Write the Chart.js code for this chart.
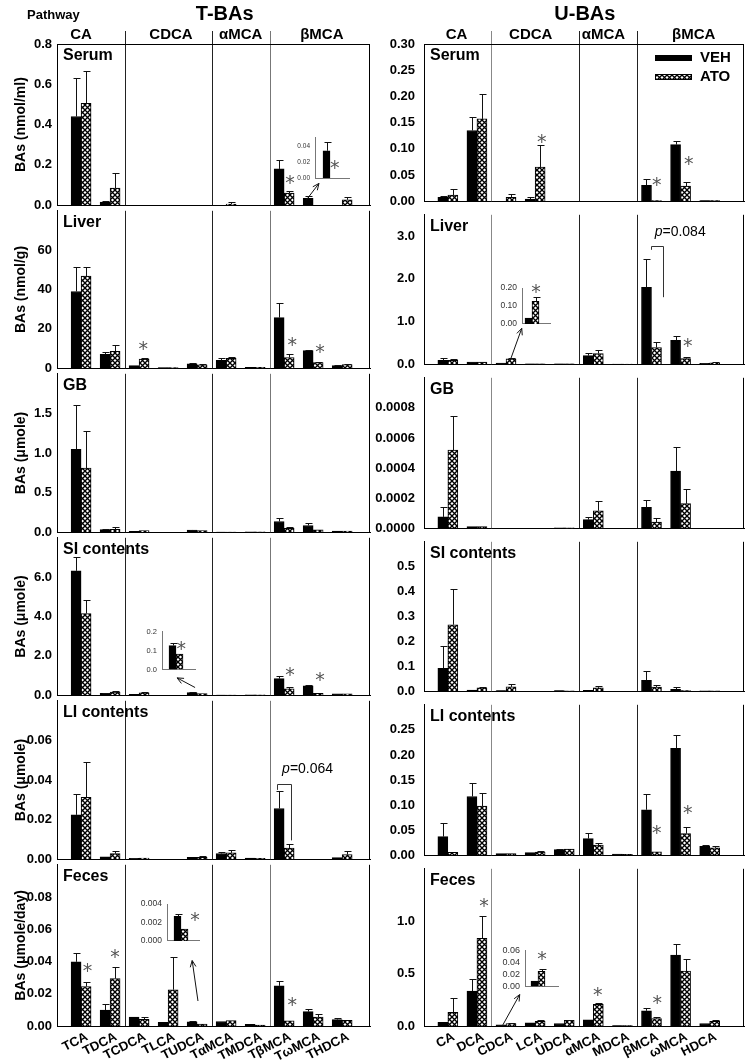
<!DOCTYPE html>
<html><head><meta charset="utf-8">
<script src="https://cdn.jsdelivr.net/npm/chart.js@4.4.1/dist/chart.umd.min.js"></script>
<style>
html,body{margin:0;padding:0;background:#fff;}
#wrap{position:relative;width:747px;height:1064px;overflow:hidden;background:#fff;}
canvas{position:absolute;}
</style></head><body><div id="wrap"></div>
<script>
// ---------------- DATA ----------------
const tCats = ['TCA','TDCA','TCDCA','TLCA','TUDCA','TαMCA','TMDCA','TβMCA','TωMCA','THDCA'];
const uCats = ['CA','DCA','CDCA','LCA','UDCA','αMCA','MDCA','βMCA','ωMCA','HDCA'];
const pathways = ['CA','CDCA','αMCA','βMCA'];
const pathwaySizes = [2,3,2,3];
const seriesNames = ['VEH','ATO'];
const rowNames = ['Serum','Liver','GB','SI contents','LI contents','Feces'];
const yTitles = ['BAs (nmol/ml)','BAs (nmol/g)','BAs (μmole)','BAs (μmole)','BAs (μmole)','BAs (μmole/day)'];

// T-BAs
const tSerumVeh    = [0.44, 0.015, 0, 0, 0, 0, 0, 0.18, 0.034, 0];
const tSerumVehSem = [0.19, 0.008, 0, 0, 0, 0, 0, 0.045, 0.011, 0];
const tSerumAto    = [0.505, 0.085, 0, 0, 0, 0.006, 0, 0.06, 0, 0.027];
const tSerumAtoSem = [0.16, 0.075, 0, 0, 0, 0.01, 0, 0.012, 0, 0.015];

const tLiverVeh    = [39, 7.0, 1.3, 0.3, 2.2, 4.0, 0.5, 25.7, 8.9, 1.3];
const tLiverVehSem = [12.2, 1.3, 0, 0, 0.3, 1.2, 0, 7.3, 0.3, 0.2];
const tLiverAto    = [46.8, 8.6, 4.6, 0.3, 1.7, 5.0, 0.5, 5.4, 2.9, 1.8];
const tLiverAtoSem = [4.4, 3.3, 0.5, 0, 0.2, 0.5, 0, 1.9, 0.5, 0.3];

const tGbVeh    = [1.045, 0.032, 0.012, 0, 0.028, 0.003, 0.005, 0.135, 0.085, 0.015];
const tGbVehSem = [0.555, 0.005, 0, 0, 0.005, 0, 0, 0.05, 0.03, 0];
const tGbAto    = [0.81, 0.035, 0.02, 0, 0.022, 0.003, 0.005, 0.05, 0.03, 0.015];
const tGbAtoSem = [0.47, 0.025, 0, 0, 0, 0, 0, 0.02, 0, 0];

const tSiVeh    = [6.32, 0.1, 0.05, 0, 0.13, 0.01, 0.02, 0.84, 0.47, 0.07];
const tSiVehSem = [0.72, 0.02, 0, 0, 0.015, 0, 0, 0.15, 0.04, 0];
const tSiAto    = [4.15, 0.16, 0.12, 0, 0.085, 0.01, 0.02, 0.32, 0.09, 0.07];
const tSiAtoSem = [0.7, 0.04, 0.02, 0, 0, 0, 0, 0.08, 0, 0];

const tLiVeh    = [0.0224, 0.0012, 0.0004, 0, 0.0009, 0.0029, 0.0006, 0.0256, 0, 0.0008];
const tLiVehSem = [0.0105, 0, 0, 0, 0, 0.0008, 0, 0.009, 0, 0];
const tLiAto    = [0.0312, 0.0028, 0.0006, 0, 0.001, 0.0032, 0.0005, 0.0056, 0, 0.0023];
const tLiAtoSem = [0.0179, 0.0013, 0, 0, 0.0005, 0.0013, 0, 0.0019, 0, 0.0018];

const tFecesVeh    = [0.0398, 0.0099, 0.0056, 0.0022, 0.0026, 0.0028, 0.0011, 0.0249, 0.0089, 0.004];
const tFecesVehSem = [0.0056, 0.0036, 0, 0, 0.0002, 0, 0, 0.0031, 0.0016, 0.001];
const tFecesAto    = [0.0245, 0.0294, 0.0042, 0.0225, 0.0012, 0.0034, 0.0005, 0.0032, 0.0056, 0.0035];
const tFecesAtoSem = [0.0025, 0.007, 0.0014, 0.0205, 0, 0, 0, 0, 0.0016, 0];

// U-BAs
const uSerumVeh    = [0.0073, 0.135, 0, 0.004, 0, 0, 0, 0.0305, 0.108, 0.001];
const uSerumVehSem = [0.002, 0.0266, 0, 0.0033, 0, 0, 0, 0.0115, 0.006, 0];
const uSerumAto    = [0.0116, 0.157, 0.0073, 0.065, 0, 0, 0, 0.001, 0.0287, 0.001];
const uSerumAtoSem = [0.011, 0.048, 0.006, 0.043, 0, 0, 0, 0, 0.0073, 0];

const uLiverVeh    = [0.09, 0.05, 0.025, 0.01, 0.01, 0.2, 0.005, 1.8, 0.56, 0.02];
const uLiverVehSem = [0.06, 0.01, 0.003, 0, 0, 0.07, 0, 0.67, 0.09, 0];
const uLiverAto    = [0.09, 0.05, 0.125, 0.01, 0.01, 0.25, 0.005, 0.39, 0.13, 0.035];
const uLiverAtoSem = [0.03, 0.01, 0.02, 0, 0, 0.08, 0, 0.12, 0.05, 0.005];

const uGbVeh    = [0.000075, 0.00001, 0, 0, 0.000003, 0.000057, 0, 0.000138, 0.00038, 0];
const uGbVehSem = [0.000067, 0, 0, 0, 0, 0.00002, 0, 0.000049, 0.000159, 0];
const uGbAto    = [0.000519, 0.00001, 0, 0, 0.000003, 0.000116, 0, 0.000041, 0.000163, 0];
const uGbAtoSem = [0.000224, 0, 0, 0, 0, 0.000067, 0, 0.000024, 0.000098, 0];

const uSiVeh    = [0.092, 0.005, 0.002, 0, 0.002, 0.003, 0, 0.044, 0.008, 0.001];
const uSiVehSem = [0.088, 0, 0, 0, 0, 0, 0, 0.039, 0.009, 0];
const uSiAto    = [0.267, 0.0137, 0.0173, 0, 0.001, 0.0137, 0, 0.017, 0.002, 0.001];
const uSiAtoSem = [0.145, 0.0033, 0.013, 0, 0, 0.0073, 0, 0.009, 0, 0];

const uLiVeh    = [0.037, 0.117, 0.003, 0.005, 0.011, 0.033, 0.002, 0.0906, 0.213, 0.0177];
const uLiVehSem = [0.0263, 0.028, 0, 0, 0.002, 0.011, 0, 0.031, 0.027, 0.002];
const uLiAto    = [0.0055, 0.098, 0.003, 0.006, 0.012, 0.02, 0.0015, 0.0067, 0.043, 0.0146];
const uLiAtoSem = [0, 0.026, 0, 0.002, 0, 0.005, 0, 0, 0.014, 0.003];

const uFecesVeh    = [0.035, 0.333, 0.01, 0.03, 0.024, 0.06, 0.005, 0.145, 0.676, 0.024];
const uFecesVehSem = [0, 0.117, 0, 0, 0, 0, 0, 0.022, 0.104, 0];
const uFecesAto    = [0.13, 0.836, 0.024, 0.045, 0.055, 0.206, 0.005, 0.07, 0.524, 0.045];
const uFecesAtoSem = [0.137, 0.209, 0.002, 0.01, 0.005, 0.014, 0, 0.015, 0.116, 0.01];

// axis maxima, tick values, decimals
const tMax = [0.8, 80, 2.0, 8, 0.08, 0.10];
const uMax = [0.30, 3.5, 0.001, 0.6, 0.30, 1.5];
const tSerumTicks = [0, 0.2, 0.4, 0.6, 0.8];
const tLiverTicks = [0, 20, 40, 60];
const tGbTicks = [0, 0.5, 1.0, 1.5];
const tSiTicks = [0, 2, 4, 6];
const tLiTicks = [0, 0.02, 0.04, 0.06];
const tFecesTicks = [0, 0.02, 0.04, 0.06, 0.08];
const uSerumTicks = [0, 0.05, 0.10, 0.15, 0.20, 0.25, 0.30];
const uLiverTicks = [0, 1, 2, 3];
const uGbTicks = [0, 0.0002, 0.0004, 0.0006, 0.0008];
const uSiTicks = [0, 0.1, 0.2, 0.3, 0.4, 0.5];
const uLiTicks = [0, 0.05, 0.10, 0.15, 0.20, 0.25];
const uFecesTicks = [0, 0.5, 1.0];
const tDec = [1, 0, 1, 1, 2, 2];
const uDec = [2, 1, 4, 1, 2, 1];

// significance marks [category position, value]
const tSerumStars = [[7.2, 0.13]];
const tLiverStars = [[2.14, 11.7], [7.28, 13.7], [8.24, 9.8]];
const tSiStars = [[7.2, 1.22], [8.24, 0.93]];
const tFecesStars = [[0.22, 0.036], [1.17, 0.045], [7.28, 0.0155]];
const uSerumStars = [[3.23, 0.119], [7.18, 0.037], [8.28, 0.077]];
const uLiverStars = [[8.25, 0.52]];
const uLiStars = [[7.18, 0.051], [8.25, 0.091]];
const uFecesStars = [[1.24, 1.18], [5.15, 0.33], [7.2, 0.25]];

// p-value brackets [xLeft, xRight, yTop, yLeftEnd, yRightEnd, textX, textY, text]
const tLiBracket = [6.75, 7.23, 0.038, 0.035, 0.0095, 6.93, 0.0455, '=0.064'];
const uLiverBracket = [6.98, 7.39, 2.78, 2.68, 1.57, 7.11, 3.1, '=0.084'];

// arrows to insets [[x0,y0],[x1,y1]] in data units
const tSerumArrow = [[7.76, 0.025], [8.2, 0.108]];
const tSiArrow = [[3.93, 0.39], [3.31, 0.88]];
const tFecesArrow = [[4.03, 0.0155], [3.83, 0.0406]];
const uLiverArrow = [[2.13, 0.065], [2.54, 0.84]];
const uFecesArrow = [[1.89, 0.01], [2.47, 0.30]];

// insets (single category, VEH vs ATO)
const insTSerumVeh = [0.034], insTSerumVehSem = [0.011], insTSerumAto = [0], insTSerumAtoSem = [0];
const insTSerumTicks = [0, 0.01, 0.02, 0.03, 0.04, 0.05];
const insTSerumStars = [[0.14, 0.0174]];
const insTSiVeh = [0.126], insTSiVehSem = [0.015], insTSiAto = [0.081], insTSiAtoSem = [0];
const insTSiTicks = [0, 0.1, 0.2];
const insTSiStars = [[0.16, 0.124]];
const insTFecesVeh = [0.00268], insTFecesVehSem = [0.00022], insTFecesAto = [0.00129], insTFecesAtoSem = [0];
const insTFecesTicks = [0, 0.002, 0.004];
const insTFecesStars = [[0.44, 0.0026]];
const insULiverVeh = [0.033], insULiverVehSem = [0], insULiverAto = [0.126], insULiverAtoSem = [0.023];
const insULiverTicks = [0, 0.05, 0.10, 0.15, 0.20];
const insULiverStars = [[0.14, 0.2]];
const insUFecesVeh = [0.009], insUFecesVehSem = [0], insUFecesAto = [0.0253], insUFecesAtoSem = [0.004];
const insUFecesTicks = [0, 0.02, 0.04, 0.06];
const insUFecesStars = [[0.12, 0.051]];

// ---------------- LAYOUT / STYLE ----------------
const FONT = '"Liberation Sans", Arial, Helvetica, sans-serif';
const ROW_EDGES = [44, 208, 371, 535, 698, 862, 1026];
const COLS = {
  T: {cx: 0, cw: 372, L: 57, R: 370, xmin: -0.83, xmax: 9.96, cats: tCats, title: 'T-BAs', titleX: 4.95,
      divColors: ['#222', '#222', '#777'], pathX: [0, 3.1, 5.5, 8.3], tickPad: 5},
  U: {cx: 372, cw: 375, L: 424, R: 744, xmin: -0.82, xmax: 10.18, cats: uCats, title: 'U-BAs', titleX: 4.71,
      divColors: ['#888', '#222', '#222'], pathX: [0.3, 2.85, 5.35, 8.45], tickPad: 9}
};
const DIVIDERS = (() => { const d = []; let c = 0; pathwaySizes.slice(0, -1).forEach(s => { c += s; d.push(c - 0.5); }); return d; })();

const wrap = document.getElementById('wrap');
const TILE = (() => {
  const c = document.createElement('canvas'); c.width = 5; c.height = 5;
  const g = c.getContext('2d');
  g.fillStyle = '#fff'; g.fillRect(0, 0, 5, 5);
  g.strokeStyle = '#000'; g.lineWidth = 1.35;
  g.beginPath(); g.moveTo(-1, -1); g.lineTo(6, 6); g.moveTo(6, -1); g.lineTo(-1, 6); g.stroke();
  return c;
})();
const hatchFill = (c) => c.chart.ctx.createPattern(TILE, 'repeat');

function star(ctx, x, y) {
  ctx.save();
  ctx.font = '19px "DejaVu Sans", sans-serif';
  ctx.fillStyle = '#555'; ctx.textAlign = 'center'; ctx.textBaseline = 'alphabetic';
  const m = ctx.measureText('*');
  const off = (m.actualBoundingBoxAscent - m.actualBoundingBoxDescent) / 2;
  ctx.fillText('*', x, y + off);
  ctx.restore();
}
function arrow(ctx, x1, y1, x2, y2) {
  ctx.save(); ctx.strokeStyle = '#111'; ctx.lineWidth = 1;
  ctx.beginPath(); ctx.moveTo(x1, y1); ctx.lineTo(x2, y2);
  const a = Math.atan2(y2 - y1, x2 - x1), h = 7, w = 0.42;
  ctx.moveTo(x2 - h * Math.cos(a - w), y2 - h * Math.sin(a - w)); ctx.lineTo(x2, y2);
  ctx.lineTo(x2 - h * Math.cos(a + w), y2 - h * Math.sin(a + w));
  ctx.stroke(); ctx.restore();
}

const errPlugin = {
  id: 'errs',
  afterDatasetsDraw(chart) {
    const {ctx} = chart; const ys = chart.scales.y;
    chart.data.datasets.forEach((ds, di) => {
      const meta = chart.getDatasetMeta(di);
      meta.data.forEach((bar, i) => {
        const sem = ds.sem[i]; if (!sem) return;
        const v = ds.data[i].y;
        const x = Math.round(bar.x) + 0.5;
        const y0 = ys.getPixelForValue(v), y1 = Math.round(ys.getPixelForValue(v + sem)) + 0.5;
        ctx.save(); ctx.strokeStyle = '#111'; ctx.lineWidth = 1;
        ctx.beginPath(); ctx.moveTo(x, y0); ctx.lineTo(x, y1);
        ctx.moveTo(x - 3, y1); ctx.lineTo(x + 4, y1); ctx.stroke(); ctx.restore();
      });
    });
  }
};

function panel(colKey, row, p) {
  const col = COLS[colKey];
  const top = ROW_EDGES[row], bottom = ROW_EDGES[row + 1];
  const cTop = row === 0 ? 0 : top - 10;
  const cBot = row === 5 ? 1064 : bottom + 10;
  const cv = document.createElement('canvas');
  cv.width = col.cw; cv.height = cBot - cTop;
  cv.style.left = col.cx + 'px'; cv.style.top = cTop + 'px';
  wrap.appendChild(cv);
  const bold = (s) => ({family: FONT, size: s, weight: 'bold'});
  const ann = {
    id: 'ann',
    afterDraw(chart) {
      const {ctx, chartArea: a, scales: {x, y}} = chart;
      ctx.save();
      DIVIDERS.forEach((d, k) => {
        const px = Math.round(x.getPixelForValue(d)) + 0.5;
        ctx.strokeStyle = col.divColors[k]; ctx.lineWidth = 1;
        ctx.beginPath(); ctx.moveTo(px, row === 0 ? 31 : a.top); ctx.lineTo(px, a.bottom); ctx.stroke();
      });
      ctx.strokeStyle = '#000'; ctx.lineWidth = 1;
      const rx = Math.round(a.right) - 0.5;
      ctx.beginPath(); ctx.moveTo(rx, a.top); ctx.lineTo(rx, a.bottom);
      if (row === 0) { const ty = Math.round(a.top) + 0.5; ctx.moveTo(a.left, ty); ctx.lineTo(a.right, ty); }
      ctx.stroke();
      ctx.fillStyle = '#000'; ctx.font = 'bold 16px ' + FONT; ctx.textAlign = 'left'; ctx.textBaseline = 'top';
      ctx.fillText(rowNames[row], a.left + 6, a.top + 4);
      (p.stars || []).forEach(([sx, sy]) => star(ctx, x.getPixelForValue(sx), y.getPixelForValue(sy)));
      if (p.arrow) arrow(ctx, x.getPixelForValue(p.arrow[0][0]), y.getPixelForValue(p.arrow[0][1]),
                              x.getPixelForValue(p.arrow[1][0]), y.getPixelForValue(p.arrow[1][1]));
      if (p.bracket) {
        const [xl, xr, yt, yl, yr, tx, ty, txt] = p.bracket;
        const pxl = Math.round(x.getPixelForValue(xl)) + 0.5, pxr = Math.round(x.getPixelForValue(xr)) + 0.5;
        const pyt = Math.round(y.getPixelForValue(yt)) + 0.5;
        ctx.strokeStyle = '#333';
        ctx.beginPath(); ctx.moveTo(pxl, y.getPixelForValue(yl)); ctx.lineTo(pxl, pyt); ctx.lineTo(pxr, pyt);
        ctx.lineTo(pxr, y.getPixelForValue(yr)); ctx.stroke();
        ctx.fillStyle = '#000'; ctx.textBaseline = 'middle'; ctx.textAlign = 'left';
        const X = x.getPixelForValue(tx), Y = y.getPixelForValue(ty);
        ctx.font = 'italic 14px ' + FONT; ctx.fillText('p', X, Y);
        const w = ctx.measureText('p').width;
        ctx.font = '14px ' + FONT; ctx.fillText(txt, X + w, Y);
      }
      if (row === 0) {
        ctx.fillStyle = '#000'; ctx.textBaseline = 'alphabetic';
        if (colKey === 'T') { ctx.font = 'bold 13px ' + FONT; ctx.textAlign = 'left'; ctx.fillText('Pathway', a.left - 30, 19); }
        ctx.font = 'bold 20px ' + FONT; ctx.textAlign = 'center';
        ctx.fillText(col.title, x.getPixelForValue(col.titleX), 20);
        ctx.font = 'bold 15px ' + FONT;
        pathways.forEach((t, k) => ctx.fillText(t, x.getPixelForValue(col.pathX[k]), 39));
        if (colKey === 'U') {
          const sx = a.right - 89, tx = a.right - 44;
          ctx.fillStyle = '#000'; ctx.fillRect(sx, a.top + 11, 37, 6);
          ctx.fillStyle = ctx.createPattern(TILE, 'repeat'); ctx.fillRect(sx, a.top + 30, 37, 6);
          ctx.strokeStyle = '#000'; ctx.strokeRect(sx + 0.5, a.top + 30.5, 36, 5);
          ctx.fillStyle = '#000'; ctx.font = 'bold 15px ' + FONT; ctx.textAlign = 'left'; ctx.textBaseline = 'middle';
          ctx.fillText(seriesNames[0], tx, a.top + 14);
          ctx.fillText(seriesNames[1], tx, a.top + 33);
        }
      }
      ctx.restore();
    }
  };
  new Chart(cv, {
    type: 'bar',
    data: {datasets: [
      {label: seriesNames[0], data: p.veh.map((v, i) => ({x: i, y: v})), sem: p.vehSem,
       backgroundColor: '#000', borderColor: '#000', borderWidth: 1, barThickness: 10},
      {label: seriesNames[1], data: p.ato.map((v, i) => ({x: i, y: v})), sem: p.atoSem,
       backgroundColor: hatchFill, borderColor: '#000', borderWidth: 1, barThickness: 10}
    ]},
    options: {
      responsive: false, animation: false, devicePixelRatio: 1,
      layout: {padding: {left: 0, right: col.cw - (col.R - col.cx), top: top - cTop, bottom: 0}, autoPadding: false},
      plugins: {legend: {display: false}, tooltip: {enabled: false}},
      scales: {
        x: {type: 'linear', min: col.xmin, max: col.xmax, offset: false,
            grid: {display: false, drawTicks: false}, border: {display: true, color: '#000', width: 1},
            afterBuildTicks: s => { s.ticks = col.cats.map((c, i) => ({value: i})); },
            afterFit: s => { s.height = cBot - bottom; },
            ticks: {display: row === 5, autoSkip: false, minRotation: 27, maxRotation: 27, labelOffset: 6, padding: 3,
                    color: '#000', font: bold(13), callback: v => col.cats[v]}},
        y: {min: 0, max: p.max, grid: {display: false, drawTicks: false}, border: {display: true, color: '#000', width: 1},
            afterBuildTicks: s => { s.ticks = p.ticks.map(v => ({value: v})); },
            afterFit: s => { s.width = col.L - col.cx; },
            ticks: {padding: col.tickPad, color: '#000', font: bold(13), callback: v => Number(v).toFixed(p.dec)},
            title: {display: colKey === 'T', text: yTitles[row], color: '#000', font: bold(14), padding: {top: 13, bottom: 0}}}
      }
    },
    plugins: [errPlugin, ann]
  });
}

function inset(L, T, R, B, center, fs, d) {
  const padL = 34, padT = 8, padR = 18, padB = 4;
  const cv = document.createElement('canvas');
  cv.width = R - L + padL + padR; cv.height = B - T + padT + padB;
  cv.style.left = (L - padL) + 'px'; cv.style.top = (T - padT) + 'px';
  wrap.appendChild(cv);
  const xmin = -(center - L) / (R - L);
  new Chart(cv, {
    type: 'bar',
    data: {datasets: [
      {label: seriesNames[0], data: [{x: 0, y: d.veh[0]}], sem: d.vehSem, backgroundColor: '#000', borderColor: '#000', borderWidth: 1, barThickness: 7},
      {label: seriesNames[1], data: [{x: 0, y: d.ato[0]}], sem: d.atoSem, backgroundColor: hatchFill, borderColor: '#000', borderWidth: 1, barThickness: 7}
    ]},
    options: {
      responsive: false, animation: false, devicePixelRatio: 1,
      layout: {padding: {left: 0, top: padT, right: padR, bottom: 0}, autoPadding: false},
      plugins: {legend: {display: false}, tooltip: {enabled: false}},
      scales: {
        x: {type: 'linear', min: xmin, max: xmin + 1, offset: false, grid: {display: false, drawTicks: false},
            border: {color: '#777'}, ticks: {display: false}, afterFit: s => { s.height = padB; }},
        y: {min: 0, max: d.ticks[d.ticks.length - 1], grid: {display: false, drawTicks: false}, border: {color: '#777'},
            afterBuildTicks: s => { s.ticks = d.ticks.map(v => ({value: v})); },
            afterFit: s => { s.width = padL; },
            ticks: {padding: 5, color: '#333', font: {family: FONT, size: fs}, callback: v => Number(v).toFixed(d.dec)}}
      }
    },
    plugins: [errPlugin, {id: 'istar', afterDraw(chart) {
      const {ctx, scales: {x, y}} = chart;
      d.stars.forEach(([sx, sy]) => star(ctx, x.getPixelForValue(sx), y.getPixelForValue(sy)));
    }}]
  });
}

// ---------------- BUILD ----------------
panel('T', 0, {veh: tSerumVeh, vehSem: tSerumVehSem, ato: tSerumAto, atoSem: tSerumAtoSem, max: tMax[0], ticks: tSerumTicks, dec: tDec[0], stars: tSerumStars, arrow: tSerumArrow});
panel('T', 1, {veh: tLiverVeh, vehSem: tLiverVehSem, ato: tLiverAto, atoSem: tLiverAtoSem, max: tMax[1], ticks: tLiverTicks, dec: tDec[1], stars: tLiverStars});
panel('T', 2, {veh: tGbVeh, vehSem: tGbVehSem, ato: tGbAto, atoSem: tGbAtoSem, max: tMax[2], ticks: tGbTicks, dec: tDec[2]});
panel('T', 3, {veh: tSiVeh, vehSem: tSiVehSem, ato: tSiAto, atoSem: tSiAtoSem, max: tMax[3], ticks: tSiTicks, dec: tDec[3], stars: tSiStars, arrow: tSiArrow});
panel('T', 4, {veh: tLiVeh, vehSem: tLiVehSem, ato: tLiAto, atoSem: tLiAtoSem, max: tMax[4], ticks: tLiTicks, dec: tDec[4], bracket: tLiBracket});
panel('T', 5, {veh: tFecesVeh, vehSem: tFecesVehSem, ato: tFecesAto, atoSem: tFecesAtoSem, max: tMax[5], ticks: tFecesTicks, dec: tDec[5], stars: tFecesStars, arrow: tFecesArrow});
panel('U', 0, {veh: uSerumVeh, vehSem: uSerumVehSem, ato: uSerumAto, atoSem: uSerumAtoSem, max: uMax[0], ticks: uSerumTicks, dec: uDec[0], stars: uSerumStars});
panel('U', 1, {veh: uLiverVeh, vehSem: uLiverVehSem, ato: uLiverAto, atoSem: uLiverAtoSem, max: uMax[1], ticks: uLiverTicks, dec: uDec[1], stars: uLiverStars, arrow: uLiverArrow, bracket: uLiverBracket});
panel('U', 2, {veh: uGbVeh, vehSem: uGbVehSem, ato: uGbAto, atoSem: uGbAtoSem, max: uMax[2], ticks: uGbTicks, dec: uDec[2]});
panel('U', 3, {veh: uSiVeh, vehSem: uSiVehSem, ato: uSiAto, atoSem: uSiAtoSem, max: uMax[3], ticks: uSiTicks, dec: uDec[3]});
panel('U', 4, {veh: uLiVeh, vehSem: uLiVehSem, ato: uLiAto, atoSem: uLiAtoSem, max: uMax[4], ticks: uLiTicks, dec: uDec[4], stars: uLiStars});
panel('U', 5, {veh: uFecesVeh, vehSem: uFecesVehSem, ato: uFecesAto, atoSem: uFecesAtoSem, max: uMax[5], ticks: uFecesTicks, dec: uDec[5], stars: uFecesStars, arrow: uFecesArrow});

inset(315, 137, 349, 183, 330, 6.5, {veh: insTSerumVeh, vehSem: insTSerumVehSem, ato: insTSerumAto, atoSem: insTSerumAtoSem, ticks: insTSerumTicks, dec: 2, stars: insTSerumStars});
inset(162, 630, 195, 675, 176, 7.5, {veh: insTSiVeh, vehSem: insTSiVehSem, ato: insTSiAto, atoSem: insTSiAtoSem, ticks: insTSiTicks, dec: 1, stars: insTSiStars});
inset(167, 902, 199, 947, 181, 8.5, {veh: insTFecesVeh, vehSem: insTFecesVehSem, ato: insTFecesAto, atoSem: insTFecesAtoSem, ticks: insTFecesTicks, dec: 3, stars: insTFecesStars});
inset(522, 286, 550, 330, 532, 8.5, {veh: insULiverVeh, vehSem: insULiverVehSem, ato: insULiverAto, atoSem: insULiverAtoSem, ticks: insULiverTicks, dec: 2, stars: insULiverStars});
inset(525, 948, 558, 993, 538, 9, {veh: insUFecesVeh, vehSem: insUFecesVehSem, ato: insUFecesAto, atoSem: insUFecesAtoSem, ticks: insUFecesTicks, dec: 2, stars: insUFecesStars});
</script>
</body></html>
